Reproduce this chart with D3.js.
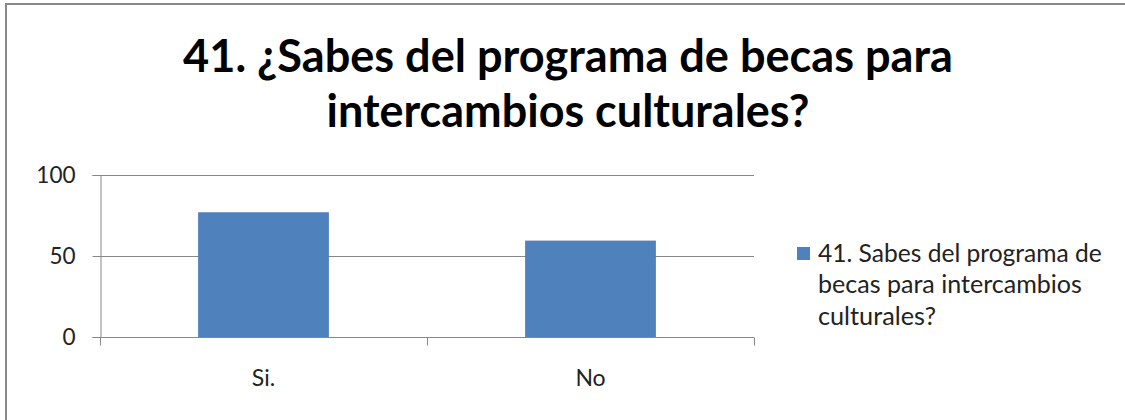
<!DOCTYPE html>
<html>
<head>
<meta charset="utf-8">
<script src="https://cdn.jsdelivr.net/npm/d3@7"></script>
<style>
  html, body { margin: 0; padding: 0; background: #fff; }
  svg { display: block; }
  text { font-family: Lato, "Open Sans", sans-serif; }
</style>
</head>
<body>
<svg id="chart" width="1125" height="420"></svg>
<script>
const titleLines = ["41. ¿Sabes del programa de becas para", "intercambios culturales?"];
const categories = ["Si.", "No"];
const values = [77, 59.5];
const seriesName = ["41. Sabes del programa de", "becas para intercambios", "culturales?"];
const yTicks = [0, 50, 100];

const svg = d3.select("#chart");
const W = 1125, H = 420;

svg.append("rect").attr("width", W).attr("height", H).attr("fill", "#fff");
// outer chart border (extends beyond window on right/bottom)
svg.append("rect")
  .attr("x", 6).attr("y", 4).attr("width", 1130).attr("height", 430)
  .attr("fill", "none").attr("stroke", "#888").attr("stroke-width", 2);

function fit(sel, target) {
  const w = sel.node().getComputedTextLength();
  const fs = parseFloat(sel.attr("font-size"));
  sel.attr("font-size", fs * target / w);
}

// Title
const titleY = [72, 127];
const titleW = [770, 483];
titleLines.forEach((t, i) => {
  const el = svg.append("text")
    .attr("x", 568).attr("y", titleY[i])
    .attr("text-anchor", "middle")
    .attr("font-size", 40).attr("font-weight", "bold").attr("fill", "#000")
    .text(t);
  fit(el, titleW[i]);
});

const plot = {left: 100, right: 754, top: 175, bottom: 337};

const x = d3.scaleBand().domain(categories).range([plot.left, plot.right]).paddingInner(0.6).paddingOuter(0.3);
const y = d3.scaleLinear().domain([0, 100]).range([plot.bottom, plot.top]);

// gridlines
svg.append("g").selectAll("line").data(yTicks.filter(d => d > 0)).join("line")
  .attr("x1", plot.left).attr("x2", plot.right)
  .attr("y1", d => y(d) + 0.5).attr("y2", d => y(d) + 0.5)
  .attr("stroke", "#888").attr("stroke-width", 1);

// bars
svg.append("g").selectAll("rect").data(values).join("rect")
  .attr("x", (d, i) => x(categories[i]))
  .attr("y", d => y(d))
  .attr("width", x.bandwidth())
  .attr("height", d => y(0) - y(d))
  .attr("fill", "#4F81BD");

// y axis
const yAxis = svg.append("g").attr("transform", `translate(${plot.left + 0.5},0)`)
  .call(d3.axisLeft(y).tickValues(yTicks).tickSize(8).tickPadding(17));
yAxis.select(".domain").attr("stroke", "#888");
yAxis.selectAll(".tick line").attr("stroke", "#888");
yAxis.selectAll(".tick text").attr("font-size", 22.5).attr("fill", "#222")
  .attr("font-family", "Lato, sans-serif");

// x axis
const xOuter = d3.scaleBand().domain(categories).range([plot.left, plot.right]);
const xAxis = svg.append("g").attr("transform", `translate(0,${plot.bottom + 0.5})`)
  .call(d3.axisBottom(xOuter).tickSize(0).tickPadding(32));
xAxis.select(".domain").remove();
xAxis.append("line").attr("x1", plot.left).attr("x2", plot.right)
  .attr("stroke", "#888");
xAxis.selectAll(".boundary").data([plot.left, (plot.left + plot.right) / 2, plot.right]).join("line")
  .attr("class", "boundary")
  .attr("x1", d => Math.round(d) + 0.5).attr("x2", d => Math.round(d) + 0.5)
  .attr("y1", 0).attr("y2", 8).attr("stroke", "#888");
xAxis.selectAll(".tick text").attr("font-size", 23).attr("fill", "#222")
  .attr("font-family", "Lato, sans-serif");

// legend
svg.append("rect").attr("x", 797).attr("y", 247).attr("width", 13).attr("height", 13)
  .attr("fill", "#4F81BD");
const legW = [284, 264, 118];
const legY = [262, 293, 325];
seriesName.forEach((t, i) => {
  const el = svg.append("text").attr("x", 818).attr("y", legY[i])
    .attr("font-size", 21).attr("fill", "#222").text(t);
  fit(el, legW[i]);
});
</script>
</body>
</html>
